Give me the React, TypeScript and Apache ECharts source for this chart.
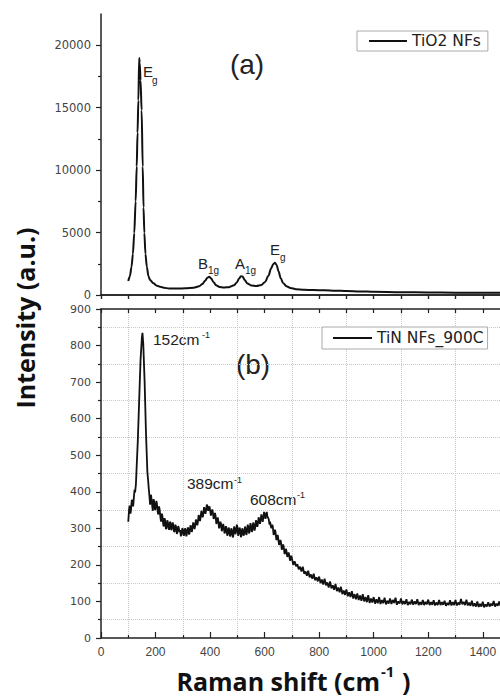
import React, { useEffect, useRef } from 'react';
import * as echarts from 'echarts';

// Raman shift (cm-1), intensity (a.u.)
const tio2Spectrum: [number, number][] = [
  [100, 1120], [106, 1500], [112, 2270], [117, 3300], [122, 4960], [127, 7500], [131, 10280], [134, 13000],
  [137, 15600], [140, 18970], [142, 18600], [145, 17200], [149, 14800], [153, 10280], [156, 7000], [159, 4960],
  [163, 3300], [168, 2270], [174, 1500], [180, 1200], [192, 940], [205, 750], [216, 670], [230, 580],
  [250, 520], [280, 520], [310, 540], [340, 590], [360, 700], [372, 880], [382, 1150], [390, 1380],
  [397, 1460], [404, 1330], [412, 1050], [422, 780], [435, 640], [450, 600], [470, 630], [488, 780],
  [498, 1000], [506, 1300], [513, 1500], [519, 1480], [527, 1200], [537, 930], [552, 760], [570, 720],
  [588, 800], [602, 1050], [614, 1550], [624, 2150], [632, 2480], [638, 2580], [644, 2400], [651, 1900],
  [659, 1350], [668, 950], [680, 700], [695, 560], [715, 470], [745, 420], [780, 400], [820, 380],
  [860, 350], [900, 320], [950, 290], [1000, 260], [1100, 230], [1200, 210], [1300, 190], [1400, 180], [1500, 170],
];

const tinSpectrum: [number, number][] = [
  [100, 318], [103, 352], [105, 362], [108, 340], [110, 350], [113, 378], [115, 372], [118, 360], [120, 380],
  [123, 405], [125, 398], [128, 420], [130, 455], [135, 540], [140, 650],
  [145, 760], [150, 822], [152, 835], [155, 805], [160, 700], [165, 560], [170, 455], [173, 430], [175, 410],
  [178, 385], [180, 365], [183, 392], [185, 382], [188, 360], [190, 348], [193, 380], [195, 372], [198, 350],
  [200, 355], [203, 375], [205, 368], [208, 345], [210, 338], [213, 360], [215, 352], [218, 330], [220, 318],
  [223, 340], [225, 335], [228, 312], [230, 305], [233, 328], [235, 322], [238, 298], [240, 300], [243, 322],
  [245, 318], [248, 300], [250, 296], [253, 318], [255, 315], [258, 295], [260, 300], [263, 316], [265, 310],
  [268, 290], [270, 292], [273, 310], [275, 305], [278, 285], [280, 288], [283, 306], [285, 302], [288, 290],
  [290, 295], [293, 278], [295, 285], [298, 300], [300, 298], [303, 280], [305, 282], [308, 300], [310, 296],
  [313, 278], [315, 285], [318, 302], [320, 300], [323, 283], [325, 288], [328, 308], [330, 305], [333, 290],
  [335, 298], [338, 316], [340, 312], [343, 298], [345, 305], [348, 324], [350, 320], [353, 308], [355, 315],
  [358, 336], [360, 332], [363, 320], [365, 328], [368, 348], [370, 342], [373, 330], [375, 338], [378, 358],
  [380, 352], [383, 340], [385, 348], [388, 365], [390, 362], [393, 348], [395, 355], [398, 360], [400, 350],
  [403, 335], [405, 342], [408, 352], [410, 345], [413, 326], [415, 330], [418, 342], [420, 335], [423, 312],
  [425, 318], [428, 330], [430, 322], [433, 300], [435, 305], [438, 318], [440, 312], [443, 292], [445, 298],
  [448, 312], [450, 305], [453, 286], [455, 290], [458, 306], [460, 300], [463, 280], [465, 285], [468, 302],
  [470, 298], [473, 278], [475, 282], [478, 300], [480, 295], [483, 275], [485, 278], [488, 305], [490, 300],
  [493, 284], [495, 290], [498, 310], [500, 305], [503, 280], [505, 285], [508, 302], [510, 298], [513, 276],
  [515, 280], [518, 300], [520, 295], [523, 280], [525, 285], [528, 305], [530, 300], [533, 282], [535, 288],
  [538, 310], [540, 305], [543, 286], [545, 292], [548, 314], [550, 308], [553, 290], [555, 295], [558, 316],
  [560, 310], [563, 294], [565, 300], [568, 322], [570, 318], [573, 304], [575, 310], [578, 330], [580, 325],
  [583, 312], [585, 320], [588, 338], [590, 332], [593, 318], [595, 328], [598, 345], [600, 340], [603, 326],
  [605, 335], [608, 345], [610, 332], [612, 330], [615, 325], [618, 310], [620, 318], [623, 305], [625, 300],
  [628, 310], [630, 305], [633, 282], [635, 285], [638, 296], [640, 290], [643, 268], [645, 270], [648, 282],
  [650, 272], [653, 255], [655, 258], [658, 268], [660, 262], [663, 242], [665, 245], [668, 256], [670, 250],
  [673, 230], [675, 232], [678, 244], [680, 238], [683, 222], [685, 225], [688, 234], [690, 228], [693, 212],
  [695, 215], [698, 225], [700, 218], [705, 200], [710, 210], [715, 196], [720, 202], [725, 188], [730, 195],
  [735, 182], [740, 195], [745, 176], [750, 182], [755, 170], [760, 184], [765, 166], [770, 174], [775, 162],
  [780, 176], [785, 158], [790, 166], [795, 155], [800, 168], [805, 150], [810, 160], [815, 146], [820, 162],
  [825, 144], [830, 152], [835, 138], [840, 155], [845, 136], [850, 144], [855, 132], [860, 148], [865, 128],
  [870, 138], [875, 125], [880, 140], [885, 120], [890, 130], [895, 118], [900, 133], [905, 114], [910, 125],
  [915, 112], [920, 128], [925, 108], [930, 120], [935, 106], [940, 122], [945, 104], [950, 116], [955, 102],
  [960, 120], [965, 100], [970, 112], [975, 98], [980, 117], [985, 96], [990, 108], [995, 97], [1000, 112],
  [1005, 94], [1010, 106], [1015, 95], [1020, 112], [1025, 93], [1030, 104], [1035, 95], [1040, 110],
  [1045, 92], [1050, 102], [1055, 94], [1060, 108], [1065, 93], [1070, 104], [1075, 96], [1080, 110],
  [1085, 91], [1090, 100], [1095, 94], [1100, 108], [1105, 92], [1110, 101], [1115, 93], [1120, 106],
  [1125, 90], [1130, 99], [1135, 92], [1140, 105], [1145, 91], [1150, 100], [1155, 93], [1160, 106],
  [1165, 90], [1170, 98], [1175, 91], [1180, 104], [1185, 90], [1190, 99], [1195, 92], [1200, 105],
  [1205, 90], [1210, 98], [1215, 91], [1220, 103], [1225, 89], [1230, 97], [1235, 90], [1240, 104],
  [1245, 90], [1250, 98], [1255, 91], [1260, 102], [1265, 88], [1270, 96], [1275, 90], [1280, 103],
  [1285, 89], [1290, 98], [1295, 90], [1300, 104], [1305, 89], [1310, 97], [1315, 91], [1320, 107],
  [1325, 92], [1330, 99], [1335, 90], [1340, 105], [1345, 89], [1350, 97], [1355, 88], [1360, 102],
  [1365, 87], [1370, 95], [1375, 86], [1380, 100], [1385, 85], [1390, 93], [1395, 86], [1400, 99],
  [1405, 84], [1410, 92], [1415, 86], [1420, 98], [1425, 86], [1430, 94], [1435, 88], [1440, 101],
  [1445, 86], [1450, 94], [1455, 88], [1460, 100], [1465, 88], [1470, 95], [1475, 89], [1480, 101],
  [1485, 88], [1490, 95], [1495, 89], [1500, 98],
];

const topYTicks = [0, 5000, 10000, 15000, 20000];
const topYMinorTicks = [2500, 7500, 12500, 17500];
const legendTop = ['TiO2 NFs'];
const legendBottom = ['TiN NFs_900C'];

const X_MIN = 0;
const X_MAX = 1600;
const X_LAST_LABEL = 1400;

const lineColor = '#222';
const axisLine = { show: true, lineStyle: { color: lineColor, width: 1.5 } };
const tickStyle = { color: lineColor, width: 1.2 };
const plain = (v: number) => String(v);
const xLabel = (v: number) => (v > X_LAST_LABEL ? '' : String(v));

function txt(text: string, x: number, y: number, size: number, extra: any = {}) {
  return {
    type: 'text',
    x,
    y,
    style: {
      text,
      fontSize: size,
      fontFamily: 'Liberation Sans, Arial, sans-serif',
      fill: '#222',
      align: 'left',
      textAlign: 'left',
      verticalAlign: 'middle',
      textVerticalAlign: 'middle',
      ...extra,
    },
  };
}

const titleFont = { fontSize: 25, fontWeight: 'bold', fontFamily: 'Open Sans, sans-serif', fill: '#111' };

export default function App() {
  const ref = useRef<HTMLDivElement>(null);
  useEffect(() => {
    const chart = echarts.init(ref.current!, null, { renderer: 'svg' });
    const option: any = {
      animation: false,
      backgroundColor: '#fff',
      grid: [
        { left: 101, width: 436.3, top: 14, height: 281, outerBoundsMode: 'none', containLabel: false },
        { left: 101, width: 436.3, top: 309, height: 329, outerBoundsMode: 'none', containLabel: false },
      ],
      xAxis: [
        {
          type: 'value', gridIndex: 0, min: X_MIN, max: X_MAX, interval: 100, position: 'bottom',
          axisLine, axisTick: { show: true, inside: false, length: 4, lineStyle: tickStyle },
          axisLabel: { show: false }, splitLine: { show: false },
        },
        {
          type: 'value', gridIndex: 0, min: X_MIN, max: X_MAX, interval: 100, position: 'top',
          axisLine, axisTick: { show: true, inside: true, length: 4, lineStyle: tickStyle },
          axisLabel: { show: false }, splitLine: { show: false },
        },
        {
          type: 'value', gridIndex: 1, min: X_MIN, max: X_MAX, interval: 200, position: 'bottom',
          axisLine, axisTick: { show: true, inside: true, length: 6, lineStyle: tickStyle },
          minorTick: { show: true, splitNumber: 2, length: 3, lineStyle: tickStyle },
          axisLabel: { show: true, margin: 8, fontSize: 12, color: '#444', fontFamily: 'Liberation Sans, Arial, sans-serif', formatter: xLabel },
          splitLine: { show: false },
          minorSplitLine: { show: true, lineStyle: { color: '#c8c8c8', type: 'dotted', width: 1 } },
        },
        {
          type: 'value', gridIndex: 1, min: X_MIN, max: X_MAX, interval: 100, position: 'top',
          axisLine, axisTick: { show: true, inside: true, length: 4, lineStyle: tickStyle },
          axisLabel: { show: false }, splitLine: { show: false },
        },
      ],
      yAxis: [
        {
          type: 'value', gridIndex: 0, min: 0, max: 22500, interval: 5000, position: 'left',
          axisLine,
          axisTick: { show: true, inside: false, length: 5, lineStyle: tickStyle, customValues: topYTicks },
          axisLabel: { show: true, margin: 10, fontSize: 11.5, color: '#444', fontFamily: 'DejaVu Sans, sans-serif', customValues: topYTicks, formatter: plain },
          splitLine: { show: false },
        },
        {
          type: 'value', gridIndex: 0, min: 0, max: 22500, position: 'left',
          axisLine: { show: false },
          axisTick: { show: true, inside: false, length: 3, lineStyle: tickStyle, customValues: topYMinorTicks },
          axisLabel: { show: false },
          splitLine: { show: false },
        },
        {
          type: 'value', gridIndex: 1, min: 0, max: 900, interval: 100, position: 'left',
          axisLine,
          axisTick: { show: true, inside: false, length: 5, lineStyle: tickStyle },
          minorTick: { show: true, splitNumber: 2, length: 3, lineStyle: tickStyle },
          axisLabel: { show: true, margin: 10, fontSize: 11, color: '#444', fontFamily: 'DejaVu Sans, sans-serif', formatter: plain },
          splitLine: { show: false },
          minorSplitLine: { show: true, lineStyle: { color: '#c8c8c8', type: 'dotted', width: 1 } },
        },
      ],
      legend: [
        {
          data: legendTop, left: 357, top: 31, icon: 'rect', itemWidth: 38, itemHeight: 2, itemGap: 0,
          padding: [2, 7, 2, 12], borderColor: '#aaa', borderWidth: 1, backgroundColor: '#fff',
          textStyle: { fontFamily: 'DejaVu Sans, sans-serif', fontSize: 15.5, color: '#222' },
        },
        {
          data: legendBottom, left: 322, top: 327, icon: 'rect', itemWidth: 39, itemHeight: 2, itemGap: 0,
          padding: [3, 4, 3, 11], borderColor: '#aaa', borderWidth: 1, backgroundColor: '#fff',
          textStyle: { fontFamily: 'DejaVu Sans, sans-serif', fontSize: 15.5, color: '#222' },
        },
      ],
      series: [
        {
          type: 'line', name: legendTop[0], xAxisIndex: 0, yAxisIndex: 0, data: tio2Spectrum,
          symbol: 'none', showSymbol: false, smooth: 0.3, smoothMonotone: 'x',
          lineStyle: { color: '#111', width: 2 }, itemStyle: { color: '#111' },
        },
        {
          type: 'line', name: legendBottom[0], xAxisIndex: 2, yAxisIndex: 2, data: tinSpectrum,
          symbol: 'none', showSymbol: false,
          lineStyle: { color: '#111', width: 1.8 }, itemStyle: { color: '#111' },
        },
      ],
      graphic: [
        txt('(a)', 247, 64, 28, { align: 'center', textAlign: 'center' }),
        txt('(b)', 253, 364, 28, { align: 'center', textAlign: 'center' }),
        // top-panel peak labels
        txt('E', 143, 71, 15),
        txt('g', 152, 80, 10),
        txt('B', 198, 263, 15),
        txt('1g', 208, 270, 10),
        txt('A', 235, 263, 15),
        txt('1g', 245, 270, 10),
        txt('E', 270, 249, 15),
        txt('g', 280, 257, 10),
        // bottom-panel peak labels
        txt('152cm', 153, 339, 15.5),
        txt('-1', 202, 335, 9),
        txt('389cm', 187, 483.5, 15.5),
        txt('-1', 234, 479.5, 9),
        txt('608cm', 250, 499, 15.5),
        txt('-1', 297, 495, 9),
        // axis titles
        txt('Raman shift (cm', 380, 681, 25, { ...titleFont, align: 'right', textAlign: 'right' }),
        txt('-1', 381, 671, 15, { ...titleFont, fontSize: 15 }),
        txt(')', 402, 681, 25, titleFont),
        {
          type: 'text', x: 25, y: 318, rotation: Math.PI / 2,
          style: {
            text: 'Intensity (a.u.)', ...titleFont,
            align: 'center', textAlign: 'center', verticalAlign: 'middle', textVerticalAlign: 'middle',
          },
        },
      ],
    };
    chart.setOption(option);
    return () => chart.dispose();
  }, []);
  return <div ref={ref} style={{ position: 'absolute', left: 0, top: 0, width: 500, height: 698 }} />;
}
